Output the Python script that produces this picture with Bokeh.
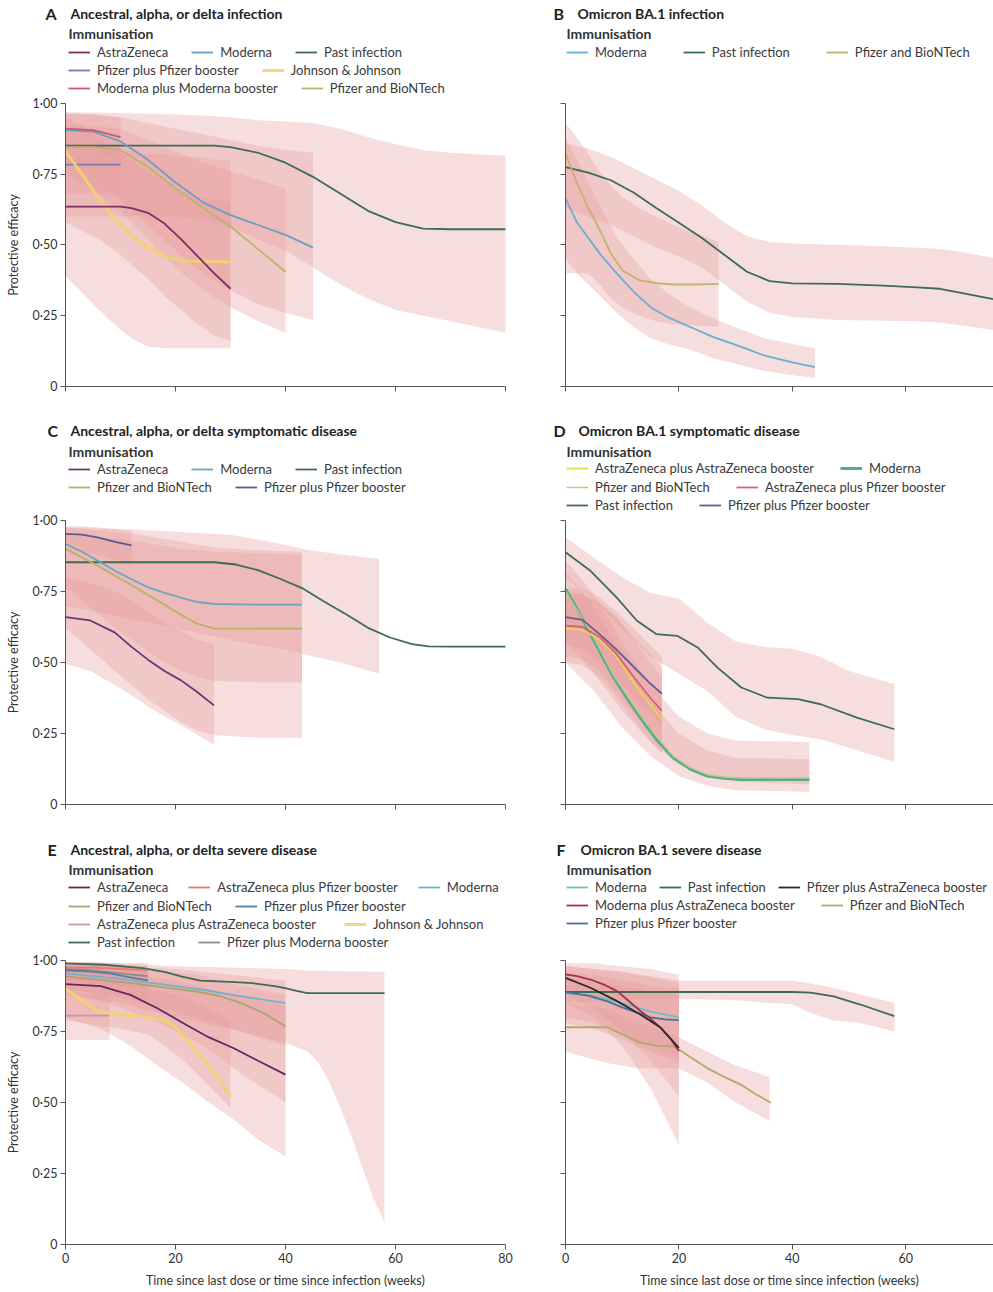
from bokeh.plotting import figure
from bokeh.models import Range1d, FixedTicker, CustomJSTickFormatter, Legend, LegendItem, Label
from bokeh.layouts import column, row
from bokeh.embed import file_html
from bokeh.resources import INLINE

# ---------------- texts ----------------
X_TICKS = [0, 20, 40, 60, 80]
Y_TICKS = [0, 0.25, 0.5, 0.75, 1.0]
Y_LABEL = "Protective efficacy"
X_LABEL = "Time since last dose or time since infection (weeks)"
LEGEND_TITLE = "Immunisation"
LETTERS = ["A", "B", "C", "D", "E", "F"]
TITLES = ["Ancestral, alpha, or delta infection", "Omicron BA.1 infection",
          "Ancestral, alpha, or delta symptomatic disease", "Omicron BA.1 symptomatic disease",
          "Ancestral, alpha, or delta severe disease", "Omicron BA.1 severe disease"]

# ---------------- panel A : ancestral/alpha/delta infection ----------------
A_AZ_W = [0, 5, 10, 12, 15, 18, 21, 24, 27, 30]
A_AZ_V = [0.635, 0.635, 0.635, 0.63, 0.613, 0.575, 0.52, 0.46, 0.40, 0.345]
A_AZ_LO = [0.39, 0.29, 0.20, 0.17, 0.14, 0.135, 0.135, 0.135, 0.135, 0.135]
A_AZ_HI = [0.83, 0.83, 0.83, 0.83, 0.82, 0.82, 0.81, 0.81, 0.80, 0.80]
A_MOD_W = [0, 5, 10, 15, 20, 25, 30, 35, 40, 45]
A_MOD_V = [0.905, 0.90, 0.865, 0.80, 0.72, 0.65, 0.605, 0.57, 0.535, 0.49]
A_MOD_LO = [0.80, 0.74, 0.66, 0.57, 0.48, 0.40, 0.34, 0.29, 0.26, 0.235]
A_MOD_HI = [0.965, 0.96, 0.95, 0.93, 0.91, 0.89, 0.87, 0.85, 0.835, 0.825]
A_PI_W = [0, 10, 20, 27, 30, 35, 40, 45, 50, 55, 60, 65, 70, 75, 80]
A_PI_V = [0.85, 0.85, 0.85, 0.85, 0.845, 0.825, 0.79, 0.74, 0.68, 0.62, 0.58, 0.557, 0.555, 0.555, 0.555]
A_PI_LO = [0.60, 0.60, 0.60, 0.58, 0.56, 0.52, 0.48, 0.42, 0.36, 0.31, 0.27, 0.25, 0.23, 0.21, 0.19]
A_PI_HI = [0.968, 0.965, 0.96, 0.955, 0.95, 0.94, 0.935, 0.93, 0.91, 0.88, 0.855, 0.835, 0.825, 0.82, 0.815]
A_PPB_W = [0, 5, 10]
A_PPB_V = [0.783, 0.783, 0.783]
A_PPB_LO = [0.68, 0.68, 0.68]
A_PPB_HI = [0.86, 0.86, 0.86]
A_MMB_W = [0, 5, 10]
A_MMB_V = [0.91, 0.905, 0.88]
A_MMB_LO = [0.84, 0.83, 0.80]
A_MMB_HI = [0.96, 0.96, 0.95]
A_JJ_W = [0, 3, 6, 9, 12, 15, 18, 21, 24, 27, 30]
A_JJ_V = [0.83, 0.75, 0.665, 0.59, 0.53, 0.49, 0.46, 0.445, 0.44, 0.44, 0.44]
A_JJ_LO = [0.58, 0.55, 0.52, 0.48, 0.43, 0.38, 0.32, 0.27, 0.22, 0.18, 0.16]
A_JJ_HI = [0.95, 0.92, 0.88, 0.84, 0.80, 0.76, 0.72, 0.69, 0.67, 0.66, 0.65]
A_PB_W = [0, 5, 10, 15, 20, 25, 30, 35, 40]
A_PB_V = [0.845, 0.845, 0.835, 0.775, 0.70, 0.63, 0.565, 0.485, 0.405]
A_PB_LO = [0.75, 0.70, 0.62, 0.52, 0.42, 0.34, 0.28, 0.23, 0.19]
A_PB_HI = [0.92, 0.92, 0.91, 0.87, 0.83, 0.79, 0.76, 0.73, 0.70]

# ---------------- panel B : omicron infection ----------------
B_MOD_W = [0, 2, 4, 6, 9, 12, 15, 18, 22, 26, 31, 35, 40, 44]
B_MOD_V = [0.663, 0.58, 0.525, 0.47, 0.40, 0.335, 0.28, 0.245, 0.21, 0.175, 0.14, 0.11, 0.085, 0.068]
B_MOD_LO = [0.45, 0.40, 0.36, 0.32, 0.26, 0.21, 0.17, 0.15, 0.13, 0.10, 0.075, 0.055, 0.04, 0.03]
B_MOD_HI = [0.88, 0.80, 0.72, 0.64, 0.53, 0.45, 0.38, 0.33, 0.28, 0.24, 0.20, 0.17, 0.15, 0.135]
B_PI_W = [0, 4, 8, 12, 16, 20, 24, 28, 32, 36, 40, 48, 56, 62, 66, 70, 75, 80]
B_PI_V = [0.774, 0.755, 0.728, 0.685, 0.63, 0.578, 0.525, 0.465, 0.405, 0.372, 0.364, 0.362, 0.356, 0.35, 0.345, 0.33, 0.31, 0.29]
B_PI_LO = [0.63, 0.60, 0.57, 0.53, 0.49, 0.46, 0.42, 0.36, 0.30, 0.26, 0.245, 0.235, 0.232, 0.23, 0.225, 0.215, 0.20, 0.19]
B_PI_HI = [0.86, 0.84, 0.81, 0.77, 0.73, 0.69, 0.64, 0.58, 0.53, 0.51, 0.505, 0.50, 0.495, 0.49, 0.485, 0.475, 0.455, 0.44]
B_PB_W = [0, 2, 4, 6, 8, 10, 13, 16, 19, 23, 27]
B_PB_V = [0.821, 0.72, 0.63, 0.555, 0.47, 0.41, 0.375, 0.365, 0.36, 0.36, 0.362]
B_PB_LO = [0.40, 0.40, 0.40, 0.36, 0.31, 0.28, 0.25, 0.23, 0.22, 0.215, 0.21]
B_PB_HI = [0.93, 0.88, 0.82, 0.76, 0.71, 0.67, 0.63, 0.60, 0.57, 0.54, 0.51]

# ---------------- panel C : ancestral symptomatic disease ----------------
C_AZ_W = [0, 4.5, 9, 12, 15, 18, 21, 24, 27]
C_AZ_V = [0.66, 0.648, 0.605, 0.555, 0.51, 0.47, 0.437, 0.395, 0.349]
C_AZ_LO = [0.495, 0.47, 0.42, 0.385, 0.345, 0.31, 0.28, 0.245, 0.21]
C_AZ_HI = [0.80, 0.78, 0.75, 0.72, 0.68, 0.64, 0.61, 0.58, 0.565]
C_MOD_W = [0, 3, 6, 9, 12, 15, 18, 21, 24, 27, 35, 43]
C_MOD_V = [0.918, 0.89, 0.857, 0.823, 0.793, 0.765, 0.745, 0.728, 0.713, 0.706, 0.704, 0.704]
C_MOD_LO = [0.62, 0.57, 0.52, 0.47, 0.42, 0.37, 0.33, 0.29, 0.26, 0.245, 0.235, 0.235]
C_MOD_HI = [0.975, 0.97, 0.965, 0.96, 0.955, 0.945, 0.935, 0.925, 0.915, 0.905, 0.895, 0.89]
C_PI_W = [0, 10, 20, 27, 31, 35, 39, 43, 47, 51, 55, 59, 63, 66, 70, 75, 80]
C_PI_V = [0.853, 0.853, 0.853, 0.853, 0.845, 0.825, 0.795, 0.762, 0.715, 0.67, 0.622, 0.588, 0.565, 0.557, 0.556, 0.556, 0.556]
C_PIB_W = [0, 10, 20, 30, 40, 43, 50, 57]
C_PIB_LO = [0.70, 0.66, 0.62, 0.58, 0.545, 0.53, 0.50, 0.46]
C_PIB_HI = [0.975, 0.97, 0.96, 0.95, 0.915, 0.90, 0.88, 0.865]
C_PB_W = [0, 3, 6, 9, 12, 15, 18, 21, 24, 27, 35, 43]
C_PB_V = [0.90, 0.87, 0.84, 0.805, 0.773, 0.738, 0.703, 0.668, 0.636, 0.62, 0.619, 0.619]
C_PB_LO = [0.77, 0.72, 0.67, 0.62, 0.58, 0.54, 0.50, 0.47, 0.45, 0.435, 0.43, 0.43]
C_PB_HI = [0.95, 0.945, 0.94, 0.935, 0.93, 0.92, 0.91, 0.90, 0.895, 0.89, 0.885, 0.88]
C_PPB_W = [0, 3, 6, 9, 12]
C_PPB_V = [0.953, 0.95, 0.94, 0.925, 0.912]
C_PPB_LO = [0.90, 0.89, 0.88, 0.86, 0.84]
C_PPB_HI = [0.98, 0.98, 0.975, 0.97, 0.965]

# ---------------- panel D : omicron symptomatic disease ----------------
D_PI_W = [0, 4.4, 9, 12.6, 16, 19.7, 23.3, 26.8, 31, 35.6, 41, 45, 51.4, 58]
D_PI_V = [0.888, 0.823, 0.729, 0.647, 0.60, 0.594, 0.553, 0.482, 0.412, 0.376, 0.371, 0.353, 0.306, 0.265]
D_PIB_W = [0, 5, 10, 15, 20, 25, 30, 35, 40, 45, 50, 58]
D_PIB_LO = [0.80, 0.72, 0.62, 0.52, 0.46, 0.40, 0.31, 0.265, 0.245, 0.23, 0.20, 0.15]
D_PIB_HI = [0.941, 0.87, 0.80, 0.745, 0.725, 0.64, 0.575, 0.555, 0.548, 0.52, 0.47, 0.424]
D_MOD_W = [0, 2, 4.4, 6, 8.5, 11, 13.2, 16, 19, 22, 25, 28, 31, 37, 43]
D_MOD_V = [0.759, 0.69, 0.60, 0.54, 0.447, 0.37, 0.306, 0.23, 0.165, 0.125, 0.10, 0.092, 0.088, 0.088, 0.088]
D_PB_V = [0.75, 0.685, 0.61, 0.55, 0.455, 0.38, 0.315, 0.24, 0.17, 0.13, 0.105, 0.097, 0.093, 0.093, 0.093]
D_MODB_W = [0, 5, 10, 15, 20, 25, 30, 43]
D_MODB_LO = [0.50, 0.40, 0.27, 0.17, 0.10, 0.065, 0.05, 0.045]
D_MODB_HI = [0.86, 0.74, 0.57, 0.42, 0.31, 0.25, 0.225, 0.22]
D_PBB_LO = [0.58, 0.46, 0.33, 0.22, 0.14, 0.10, 0.08, 0.07]
D_PBB_HI = [0.82, 0.70, 0.52, 0.36, 0.25, 0.19, 0.165, 0.16]
D_BOOST_W = [0, 3, 6, 9, 12, 15, 17]
D_AZAZ_V = [0.62, 0.615, 0.58, 0.52, 0.43, 0.35, 0.30]
D_AZAZ_LO = [0.50, 0.49, 0.45, 0.38, 0.30, 0.22, 0.18]
D_AZAZ_HI = [0.74, 0.74, 0.71, 0.66, 0.58, 0.50, 0.45]
D_AZPF_V = [0.63, 0.625, 0.59, 0.53, 0.45, 0.375, 0.33]
D_AZPF_LO = [0.52, 0.51, 0.47, 0.40, 0.32, 0.25, 0.21]
D_AZPF_HI = [0.75, 0.74, 0.71, 0.66, 0.59, 0.53, 0.48]
D_PPB_V = [0.66, 0.65, 0.60, 0.545, 0.485, 0.425, 0.39]
D_PPB_LO = [0.56, 0.55, 0.50, 0.44, 0.38, 0.32, 0.28]
D_PPB_HI = [0.76, 0.76, 0.73, 0.68, 0.62, 0.56, 0.52]

# ---------------- panel E : ancestral severe disease ----------------
E_PI_W = [0, 7, 14, 18, 21, 24.5, 30, 34, 38, 40, 42, 44, 50, 58]
E_PI_V = [0.99, 0.985, 0.973, 0.96, 0.944, 0.929, 0.925, 0.92, 0.91, 0.903, 0.893, 0.885, 0.885, 0.885]
E_PIB_W = [0, 10, 20, 30, 40, 44, 46, 48, 50, 52, 54, 56, 58]
E_PIB_LO = [0.88, 0.85, 0.80, 0.76, 0.71, 0.68, 0.64, 0.57, 0.48, 0.38, 0.27, 0.16, 0.08]
E_PIB_HI = [0.995, 0.99, 0.98, 0.975, 0.97, 0.965, 0.965, 0.963, 0.962, 0.961, 0.961, 0.96, 0.96]
E_MOD_W = [0, 10, 20, 25, 30, 35, 40]
E_MOD_V = [0.955, 0.935, 0.91, 0.897, 0.88, 0.865, 0.85]
E_MOD_LO = [0.90, 0.87, 0.82, 0.79, 0.76, 0.73, 0.70]
E_MOD_HI = [0.99, 0.98, 0.97, 0.96, 0.95, 0.94, 0.93]
E_PB_W = [0, 6, 12, 18, 24, 28, 32, 36, 40]
E_PB_V = [0.944, 0.932, 0.92, 0.905, 0.89, 0.875, 0.85, 0.815, 0.768]
E_PB_LO = [0.88, 0.86, 0.82, 0.77, 0.71, 0.66, 0.60, 0.55, 0.50]
E_PB_HI = [0.985, 0.98, 0.97, 0.96, 0.95, 0.93, 0.91, 0.895, 0.88]
E_AZ_W = [0, 6.4, 11.8, 16.7, 22, 26, 30.6, 35, 40]
E_AZ_V = [0.917, 0.91, 0.879, 0.832, 0.773, 0.73, 0.691, 0.647, 0.598]
E_AZ_LO = [0.80, 0.76, 0.70, 0.63, 0.56, 0.50, 0.44, 0.37, 0.31]
E_AZ_HI = [0.97, 0.965, 0.955, 0.94, 0.92, 0.90, 0.88, 0.86, 0.84]
E_JJ_W = [0, 3, 6, 10, 15, 18, 20, 23, 26, 28, 30]
E_JJ_V = [0.90, 0.86, 0.82, 0.81, 0.80, 0.79, 0.765, 0.70, 0.63, 0.58, 0.52]
E_JJ_LO = [0.79, 0.78, 0.77, 0.76, 0.74, 0.70, 0.67, 0.62, 0.56, 0.52, 0.48]
E_JJ_HI = [0.97, 0.96, 0.94, 0.92, 0.90, 0.89, 0.88, 0.86, 0.83, 0.81, 0.79]
E_AZPF_W = [0, 5, 10, 15]
E_AZPF_V = [0.975, 0.975, 0.97, 0.965]
E_AZPF_LO = [0.93, 0.93, 0.92, 0.91]
E_AZPF_HI = [0.995, 0.995, 0.99, 0.99]
E_PPB_W = [0, 4, 8, 12, 15]
E_PPB_V = [0.965, 0.962, 0.955, 0.94, 0.93]
E_PPB_LO = [0.92, 0.915, 0.90, 0.88, 0.86]
E_PPB_HI = [0.99, 0.99, 0.985, 0.98, 0.975]
E_AZAZ_W = [0, 4, 8]
E_AZAZ_V = [0.806, 0.806, 0.806]
E_AZAZ_LO = [0.72, 0.72, 0.72]
E_AZAZ_HI = [0.88, 0.88, 0.88]
E_PMB_W = [0, 5, 10, 15]
E_PMB_V = [0.97, 0.965, 0.955, 0.945]
E_PMB_LO = [0.93, 0.92, 0.91, 0.90]
E_PMB_HI = [0.99, 0.99, 0.985, 0.98]

# ---------------- panel F : omicron severe disease ----------------
F_PI_W = [0, 10, 20, 30, 40, 43.2, 47.3, 52, 58]
F_PI_V = [0.889, 0.889, 0.889, 0.889, 0.889, 0.887, 0.874, 0.845, 0.804]
F_PIB_W = [0, 10, 20, 30, 40, 43, 47, 52, 58]
F_PIB_LO = [0.85, 0.86, 0.865, 0.86, 0.845, 0.816, 0.79, 0.78, 0.75]
F_PIB_HI = [0.98, 0.96, 0.93, 0.93, 0.93, 0.92, 0.905, 0.88, 0.85]
F_MAZ_W = [0, 2, 4.4, 7, 9.1, 11, 13.2, 15, 16.8, 18.5, 20]
F_MAZ_V = [0.951, 0.945, 0.933, 0.913, 0.892, 0.86, 0.822, 0.795, 0.763, 0.725, 0.681]
F_PAZ_W = [0, 4.4, 9.1, 13.2, 16.8, 20]
F_PAZ_V = [0.939, 0.904, 0.857, 0.81, 0.763, 0.692]
F_PPB_W = [0, 4, 7.4, 10, 12.1, 15, 17.5, 20]
F_PPB_V = [0.889, 0.876, 0.856, 0.835, 0.82, 0.80, 0.793, 0.79]
F_MOD_W = [0, 5, 10, 15, 20]
F_MOD_V = [0.885, 0.875, 0.85, 0.82, 0.80]
F_BOOST_W = [0, 5, 10, 15, 20]
F_MAZ_LO = [0.85, 0.80, 0.70, 0.55, 0.35]
F_MAZ_HI = [0.99, 0.99, 0.98, 0.97, 0.95]
F_PAZ_LO = [0.88, 0.83, 0.75, 0.65, 0.52]
F_PAZ_HI = [0.98, 0.97, 0.96, 0.94, 0.92]
F_PPB_LO = [0.80, 0.78, 0.74, 0.70, 0.66]
F_PPB_HI = [0.94, 0.93, 0.91, 0.89, 0.88]
F_MOD_LO = [0.78, 0.76, 0.72, 0.68, 0.64]
F_MOD_HI = [0.96, 0.95, 0.93, 0.91, 0.90]
F_PB_W = [0, 7.4, 10, 13.2, 16, 19.1, 22, 24.9, 28, 30.9, 33.5, 36.2]
F_PB_V = [0.765, 0.765, 0.74, 0.71, 0.70, 0.698, 0.66, 0.622, 0.59, 0.563, 0.53, 0.499]
F_PBB_W = [0, 7, 13, 20, 25, 30, 36]
F_PBB_LO = [0.68, 0.64, 0.62, 0.62, 0.57, 0.50, 0.435]
F_PBB_HI = [0.85, 0.83, 0.78, 0.73, 0.68, 0.63, 0.59]

# ---------------- style ----------------
FONT = "Lato"
BAND = "#e79c9c"
BAND_ALPHA = 0.33
PI_COL = "#3e6a5a"

# geometry (page pixels): each frame covers its whole figure; both axes are pinned
# at zero so panel letters, titles and legends can sit around them.
LEFT_COL = dict(fl=0, w=535, x0=-65 / 5.5, x1=(535 - 65) / 5.5)
RIGHT_COL = dict(fl=535, w=458, x0=-30 / 5.67, x1=428 / 5.67)
ROWS = [dict(top=0, zero=386, bottom=422, ppu=283.3, labels=False),
        dict(top=422, zero=804, bottom=840, ppu=284.0, labels=False),
        dict(top=840, zero=1244, bottom=1292, ppu=284.0, labels=True)]


def make_fig(col, rw, left):
    p = figure(width=col["w"], height=rw["bottom"] - rw["top"],
               x_range=Range1d(col["x0"], col["x1"]),
               y_range=Range1d(-(rw["bottom"] - rw["zero"]) / rw["ppu"], (rw["zero"] - rw["top"]) / rw["ppu"]),
               output_backend="svg", toolbar_location=None, title=None,
               min_border_left=0, min_border_right=0, min_border_top=0, min_border_bottom=0)
    p.outline_line_color = None
    p.xgrid.visible = False
    p.ygrid.visible = False
    p.background_fill_color = "white"
    p.border_fill_color = "white"
    for ax in (p.xaxis[0], p.yaxis[0]):
        ax.axis_line_color = "#555555"
        ax.major_tick_line_color = "#555555"
        ax.major_tick_in = 0
        ax.major_tick_out = 5
        ax.minor_tick_line_color = None
        ax.major_label_text_font = FONT
        ax.major_label_text_font_size = "12.5px"
        ax.major_label_text_color = "#333333"
        ax.axis_label_text_font = FONT
        ax.axis_label_text_font_style = "normal"
        ax.axis_label_text_font_size = "12.5px"
        ax.axis_label_text_color = "#333333"
        ax.fixed_location = 0
    xa, ya = p.xaxis[0], p.yaxis[0]
    xa.ticker = FixedTicker(ticks=X_TICKS)
    xa.bounds = (0, 80)
    ya.ticker = FixedTicker(ticks=Y_TICKS)
    ya.bounds = (0, 1)
    ya.major_label_standoff = 3
    if rw["labels"]:
        xa.formatter = CustomJSTickFormatter(code="return tick.toFixed(0);")
        xa.axis_label = X_LABEL
        xa.major_label_standoff = 3
        xa.axis_label_standoff = 7
    else:
        xa.formatter = CustomJSTickFormatter(code="return '';")
    if left:
        ya.formatter = CustomJSTickFormatter(
            code="return tick == 0 ? '0' : tick.toFixed(2).replace('.', '\u00b7');")
        ya.axis_label = Y_LABEL
        ya.axis_label_standoff = 9
    else:
        ya.formatter = CustomJSTickFormatter(code="return '';")
    return p


def band(p, w, lo, hi):
    p.varea(x=w, y1=lo, y2=hi, fill_color=BAND, fill_alpha=BAND_ALPHA)


def line(p, w, v, color, width=1.8, alpha=1.0):
    return p.line(x=w, y=v, line_color=color, line_width=width, line_alpha=alpha)


def header(p, col, rw, idx, letter_x, title_x, title_y, imm_y, gx, rows, rys, ren, spacings=None):
    fl = col["fl"]
    fb = rw["bottom"]

    def lab(x, y, text, size, bold, color):
        p.add_layout(Label(x=x - fl, y=fb - y, x_units="screen", y_units="screen", text=text,
                           text_font=FONT, text_font_style="bold" if bold else "normal",
                           text_font_size=size, text_color=color, text_baseline="middle"))

    lab(letter_x, title_y, LETTERS[idx], "16px", True, "#1e1e1e")
    lab(title_x, title_y, TITLES[idx], "14px", True, "#222222")
    lab(gx, imm_y, LEGEND_TITLE, "14px", True, "#333333")
    for k, (names, cy) in enumerate(zip(rows, rys)):
        sp = spacings[k] if spacings else 23
        lg = Legend(items=[LegendItem(label=n, renderers=[ren[n]]) for n in names],
                    location=(gx - fl, fb - cy - 8), orientation="horizontal",
                    padding=0, spacing=sp, margin=0, glyph_width=22, glyph_height=16,
                    label_height=16, label_standoff=7, label_text_font=FONT,
                    label_text_font_size="13px", label_text_color="#3a3a3a",
                    background_fill_alpha=0, border_line_alpha=0)
        p.add_layout(lg)


# ---------------- panel A ----------------
pA = make_fig(LEFT_COL, ROWS[0], True)
for w, lo, hi in [(A_PI_W, A_PI_LO, A_PI_HI), (A_MOD_W, A_MOD_LO, A_MOD_HI), (A_PB_W, A_PB_LO, A_PB_HI),
                  (A_AZ_W, A_AZ_LO, A_AZ_HI), (A_JJ_W, A_JJ_LO, A_JJ_HI), (A_PPB_W, A_PPB_LO, A_PPB_HI),
                  (A_MMB_W, A_MMB_LO, A_MMB_HI)]:
    band(pA, w, lo, hi)
rA = {}
rA["Past infection"] = line(pA, A_PI_W, A_PI_V, PI_COL)
rA["Pfizer and BioNTech"] = line(pA, A_PB_W, A_PB_V, "#b9b46e")
rA["Moderna"] = line(pA, A_MOD_W, A_MOD_V, "#6a9fbd")
rA["Moderna plus Moderna booster"] = line(pA, A_MMB_W, A_MMB_V, "#c9577a")
rA["Pfizer plus Pfizer booster"] = line(pA, A_PPB_W, A_PPB_V, "#7b78b0")
rA["Johnson & Johnson"] = line(pA, A_JJ_W, A_JJ_V, "#f2d36b", 3, 0.9)
rA["AstraZeneca"] = line(pA, A_AZ_W, A_AZ_V, "#7d2f62")
header(pA, LEFT_COL, ROWS[0], 0, 45, 70, 13, 33, 68,
       [["AstraZeneca", "Moderna", "Past infection"],
        ["Pfizer plus Pfizer booster", "Johnson & Johnson"],
        ["Moderna plus Moderna booster", "Pfizer and BioNTech"]], [51.7, 70, 87.5], rA)

# ---------------- panel B ----------------
pB = make_fig(RIGHT_COL, ROWS[0], False)
for w, lo, hi in [(B_PI_W, B_PI_LO, B_PI_HI), (B_PB_W, B_PB_LO, B_PB_HI), (B_MOD_W, B_MOD_LO, B_MOD_HI)]:
    band(pB, w, lo, hi)
rB = {}
rB["Past infection"] = line(pB, B_PI_W, B_PI_V, PI_COL)
rB["Pfizer and BioNTech"] = line(pB, B_PB_W, B_PB_V, "#c2b46a")
rB["Moderna"] = line(pB, B_MOD_W, B_MOD_V, "#6aaed0")
header(pB, RIGHT_COL, ROWS[0], 1, 553, 577, 13, 33, 566,
       [["Moderna", "Past infection", "Pfizer and BioNTech"]], [51.7], rB, [36])

# ---------------- panel C ----------------
pC = make_fig(LEFT_COL, ROWS[1], True)
for w, lo, hi in [(C_PIB_W, C_PIB_LO, C_PIB_HI), (C_MOD_W, C_MOD_LO, C_MOD_HI), (C_PB_W, C_PB_LO, C_PB_HI),
                  (C_AZ_W, C_AZ_LO, C_AZ_HI), (C_PPB_W, C_PPB_LO, C_PPB_HI)]:
    band(pC, w, lo, hi)
rC = {}
rC["Past infection"] = line(pC, C_PI_W, C_PI_V, PI_COL)
rC["Pfizer and BioNTech"] = line(pC, C_PB_W, C_PB_V, "#b5b26a")
rC["Moderna"] = line(pC, C_MOD_W, C_MOD_V, "#6aa6c4")
rC["Pfizer plus Pfizer booster"] = line(pC, C_PPB_W, C_PPB_V, "#5b5a96")
rC["AstraZeneca"] = line(pC, C_AZ_W, C_AZ_V, "#6c3470")
header(pC, LEFT_COL, ROWS[1], 2, 47, 70, 430, 451, 68,
       [["AstraZeneca", "Moderna", "Past infection"],
        ["Pfizer and BioNTech", "Pfizer plus Pfizer booster"]], [469, 487], rC)

# ---------------- panel D ----------------
pD = make_fig(RIGHT_COL, ROWS[1], False)
for w, lo, hi in [(D_PIB_W, D_PIB_LO, D_PIB_HI), (D_MODB_W, D_MODB_LO, D_MODB_HI), (D_MODB_W, D_PBB_LO, D_PBB_HI),
                  (D_BOOST_W, D_AZAZ_LO, D_AZAZ_HI), (D_BOOST_W, D_AZPF_LO, D_AZPF_HI),
                  (D_BOOST_W, D_PPB_LO, D_PPB_HI)]:
    band(pD, w, lo, hi)
rD = {}
rD["Past infection"] = line(pD, D_PI_W, D_PI_V, PI_COL)
rD["Moderna"] = line(pD, D_MOD_W, D_MOD_V, "#4fae8e", 3)
rD["Pfizer and BioNTech"] = line(pD, D_MOD_W, D_PB_V, "#c8c48a", 1.5)
rD["AstraZeneca plus AstraZeneca booster"] = line(pD, D_BOOST_W, D_AZAZ_V, "#e4d54f")
rD["AstraZeneca plus Pfizer booster"] = line(pD, D_BOOST_W, D_AZPF_V, "#d8607a")
rD["Pfizer plus Pfizer booster"] = line(pD, D_BOOST_W, D_PPB_V, "#6a5d8e")
header(pD, RIGHT_COL, ROWS[1], 3, 553, 578, 430, 451, 566,
       [["AstraZeneca plus AstraZeneca booster", "Moderna"],
        ["Pfizer and BioNTech", "AstraZeneca plus Pfizer booster"],
        ["Past infection", "Pfizer plus Pfizer booster"]], [468, 487, 505], rD, [26, 26, 26])

# ---------------- panel E ----------------
pE = make_fig(LEFT_COL, ROWS[2], True)
for w, lo, hi in [(E_PIB_W, E_PIB_LO, E_PIB_HI), (E_MOD_W, E_MOD_LO, E_MOD_HI), (E_PB_W, E_PB_LO, E_PB_HI),
                  (E_AZ_W, E_AZ_LO, E_AZ_HI), (E_JJ_W, E_JJ_LO, E_JJ_HI), (E_AZPF_W, E_AZPF_LO, E_AZPF_HI),
                  (E_PPB_W, E_PPB_LO, E_PPB_HI), (E_AZAZ_W, E_AZAZ_LO, E_AZAZ_HI),
                  (E_PMB_W, E_PMB_LO, E_PMB_HI)]:
    band(pE, w, lo, hi)
rE = {}
rE["Past infection"] = line(pE, E_PI_W, E_PI_V, PI_COL)
rE["Moderna"] = line(pE, E_MOD_W, E_MOD_V, "#72b2cf")
rE["Pfizer and BioNTech"] = line(pE, E_PB_W, E_PB_V, "#a9a56c")
rE["Pfizer plus Moderna booster"] = line(pE, E_PMB_W, E_PMB_V, "#8c8c8c")
rE["Pfizer plus Pfizer booster"] = line(pE, E_PPB_W, E_PPB_V, "#4f7fa6")
rE["AstraZeneca plus Pfizer booster"] = line(pE, E_AZPF_W, E_AZPF_V, "#e07d6e")
rE["AstraZeneca plus AstraZeneca booster"] = line(pE, E_AZAZ_W, E_AZAZ_V, "#c59aa8")
rE["Johnson & Johnson"] = line(pE, E_JJ_W, E_JJ_V, "#f2d36b", 3, 0.9)
rE["AstraZeneca"] = line(pE, E_AZ_W, E_AZ_V, "#5e2a5e")
header(pE, LEFT_COL, ROWS[2], 4, 47, 70, 849, 869, 68,
       [["AstraZeneca", "AstraZeneca plus Pfizer booster", "Moderna"],
        ["Pfizer and BioNTech", "Pfizer plus Pfizer booster"],
        ["AstraZeneca plus AstraZeneca booster", "Johnson & Johnson"],
        ["Past infection", "Pfizer plus Moderna booster"]], [887.3, 905.7, 924.3, 942.3], rE,
       [20, 23, 28, 23])

# ---------------- panel F ----------------
pF = make_fig(RIGHT_COL, ROWS[2], False)
for w, lo, hi in [(F_PIB_W, F_PIB_LO, F_PIB_HI), (F_PBB_W, F_PBB_LO, F_PBB_HI),
                  (F_BOOST_W, F_MAZ_LO, F_MAZ_HI), (F_BOOST_W, F_PAZ_LO, F_PAZ_HI),
                  (F_BOOST_W, F_PPB_LO, F_PPB_HI), (F_BOOST_W, F_MOD_LO, F_MOD_HI)]:
    band(pF, w, lo, hi)
rF = {}
rF["Past infection"] = line(pF, F_PI_W, F_PI_V, PI_COL)
rF["Moderna"] = line(pF, F_MOD_W, F_MOD_V, "#6cc0c0")
rF["Pfizer plus Pfizer booster"] = line(pF, F_PPB_W, F_PPB_V, "#4a6f9c")
rF["Pfizer and BioNTech"] = line(pF, F_PB_W, F_PB_V, "#b4a86a")
rF["Moderna plus AstraZeneca booster"] = line(pF, F_MAZ_W, F_MAZ_V, "#a3304a")
rF["Pfizer plus AstraZeneca booster"] = line(pF, F_PAZ_W, F_PAZ_V, "#2a2a2a")
header(pF, RIGHT_COL, ROWS[2], 5, 556, 580, 849, 869, 566,
       [["Moderna", "Past infection", "Pfizer plus AstraZeneca booster"],
        ["Moderna plus AstraZeneca booster", "Pfizer and BioNTech"],
        ["Pfizer plus Pfizer booster"]], [887, 905, 923], rF, [12, 26, 23])

layout = column(row(pA, pB), row(pC, pD), row(pE, pF))
open("out.html", "w").write(file_html(layout, INLINE))
